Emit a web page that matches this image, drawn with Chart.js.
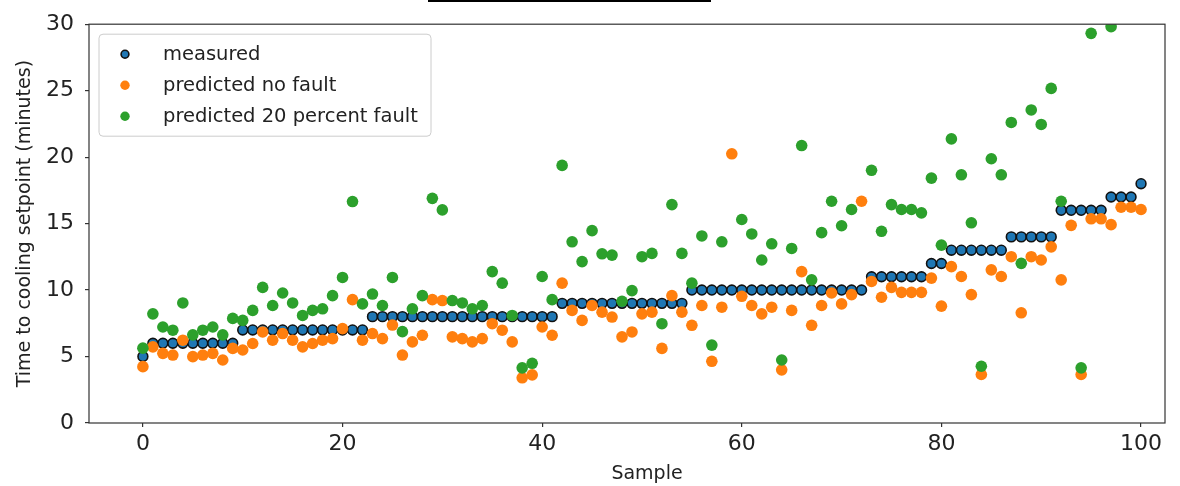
<!DOCTYPE html>
<html lang="en">
<head>
<meta charset="UTF-8">
<title>Time to cooling setpoint</title>
<script src="https://cdn.jsdelivr.net/npm/chart.js@4.4.0/dist/chart.umd.min.js"></script>
<style>
  body { margin: 0; background: #fff; }
  .wrap { position: relative; width: 1180px; height: 486px; }
  .title-rule { position: absolute; left: 428px; top: 0; width: 283px; height: 2px; background: #000; }
</style>
</head>
<body>
<div class="wrap">
  <div class="title-rule"></div>
  <canvas id="cooling" width="1180" height="486"></canvas>
</div>

<script>
    // minutes to reach the cooling setpoint, one value per sample (0..100)
    const measured = [
        5, 6, 6, 6, 6, 6, 6, 6, 6, 6,
        7, 7, 7, 7, 7, 7, 7, 7, 7, 7,
        7, 7, 7, 8, 8, 8, 8, 8, 8, 8,
        8, 8, 8, 8, 8, 8, 8, 8, 8, 8,
        8, 8, 9, 9, 9, 9, 9, 9, 9, 9,
        9, 9, 9, 9, 9, 10, 10, 10, 10, 10,
        10, 10, 10, 10, 10, 10, 10, 10, 10, 10,
        10, 10, 10, 11, 11, 11, 11, 11, 11, 12,
        12, 13, 13, 13, 13, 13, 13, 14, 14, 14,
        14, 14, 16, 16, 16, 16, 16, 17, 17, 17,
        18
    ];
    const predictedNoFault = [
        4.24, 5.73, 5.24, 5.11, 6.23, 4.99, 5.11, 5.24, 4.74, 5.61,
        5.49, 5.98, 6.85, 6.23, 6.73, 6.23, 5.73, 5.98, 6.23, 6.35,
        7.10, 9.28, 6.23, 6.73, 6.35, 7.37, 5.11, 6.10, 6.60, 9.28,
        9.21, 6.48, 6.35, 6.10, 6.35, 7.47, 6.98, 6.10, 3.40, 3.62,
        7.22, 6.60, 10.52, 8.47, 7.72, 8.84, 8.34, 7.97, 6.48, 6.85,
        8.21, 8.34, 5.61, 9.58, 8.34, 7.35, 8.84, 4.64, 8.71, 20.25,
        9.53, 8.84, 8.21, 8.71, 4.00, 8.47, 11.39, 7.35, 8.84, 9.78,
        8.96, 9.66, 16.68, 10.65, 9.46, 10.20, 9.83, 9.83, 9.83, 10.90,
        8.79, 11.76, 11.02, 9.66, 3.65, 11.52, 11.02, 12.51, 8.29, 12.51,
        12.26, 13.25, 10.77, 14.87, 3.65, 15.36, 15.36, 14.92, 16.23, 16.23,
        16.06
    ];
    // values above 30 fall outside the plotted range
    const predictedFault20 = [
        5.63, 8.21, 7.22, 6.98, 9.03, 6.63, 6.98, 7.22, 6.63, 7.87,
        7.72, 8.47, 10.20, 8.84, 9.78, 9.03, 8.09, 8.47, 8.59, 9.58,
        10.95, 16.66, 8.96, 9.70, 8.84, 10.95, 6.87, 8.59, 9.58, 16.90,
        16.03, 9.21, 9.03, 8.59, 8.84, 11.39, 10.52, 8.09, 4.15, 4.49,
        11.02, 9.28, 19.38, 13.63, 12.14, 14.47, 12.73, 12.63, 9.16, 9.96,
        12.51, 12.76, 7.47, 16.43, 12.76, 10.52, 14.07, 5.86, 13.63, 36.40,
        15.31, 14.22, 12.26, 13.48, 4.74, 13.13, 20.87, 10.77, 14.32, 16.68,
        14.84, 16.06, 30.80, 19.01, 14.42, 16.43, 16.06, 16.06, 15.81, 18.42,
        13.38, 21.37, 18.67, 15.06, 4.27, 19.88, 18.67, 22.61, 12.01, 23.55,
        22.46, 25.17, 16.68, 31.20, 4.15, 29.31, 31.00, 29.81, 33.00, 33.00,
        32.50
    ];
    const xTicks = [0, 20, 40, 60, 80, 100];
    const yTicks = [0, 5, 10, 15, 20, 25, 30];
    const xLabel = 'Sample';

    const FONT = "'DejaVu Sans', sans-serif";
    const toPoints = arr => arr.map((y, x) => ({x: x, y: y}));

    // box around the plotting area, like matplotlib spines
    const spines = {
        id: 'spines',
        afterDatasetsDraw(chart) {
            const {ctx, chartArea: a} = chart;
            ctx.save();
            ctx.strokeStyle = '#333';
            ctx.lineWidth = 1.2;
            ctx.strokeRect(a.left, a.top, a.right - a.left, a.bottom - a.top);
            ctx.restore();
        }
    };

    // x axis caption, sits a little right of the plot centre
    const xCaption = {
        id: 'xCaption',
        afterDraw(chart) {
            const {ctx, chartArea: a} = chart;
            ctx.save();
            ctx.font = '19px ' + FONT;
            ctx.fillStyle = '#222';
            ctx.textAlign = 'center';
            ctx.textBaseline = 'middle';
            ctx.fillText(xLabel, (a.left + a.right) / 2 + 20, chart.height - 12);
            ctx.restore();
        }
    };

    // legend box in the upper left corner of the plot
    const innerLegend = {
        id: 'innerLegend',
        afterDraw(chart) {
            const {ctx, chartArea: a} = chart;
            const x = a.left + 10, y = a.top + 10, w = 332, h = 102, r = 4;
            ctx.save();
            ctx.beginPath();
            ctx.roundRect(x, y, w, h, r);
            ctx.fillStyle = 'rgba(255,255,255,0.8)';
            ctx.fill();
            ctx.strokeStyle = '#cccccc';
            ctx.lineWidth = 1;
            ctx.stroke();
            ctx.font = '19.5px ' + FONT;
            ctx.textBaseline = 'middle';
            chart.data.datasets.forEach((ds, i) => {
                const cy = y + 20 + i * 31;
                ctx.beginPath();
                ctx.arc(x + 26, cy, ds.pointBorderWidth ? 3.9 : 4.7, 0, Math.PI * 2);
                ctx.fillStyle = ds.pointBackgroundColor;
                ctx.fill();
                if (ds.pointBorderWidth) {
                    ctx.lineWidth = ds.pointBorderWidth;
                    ctx.strokeStyle = ds.pointBorderColor;
                    ctx.stroke();
                }
                ctx.fillStyle = '#222';
                ctx.fillText(ds.label, x + 64, cy + 1);
            });
            ctx.restore();
        }
    };

    const tickGrid = {
        display: true, drawOnChartArea: false, drawTicks: true,
        tickLength: 4, color: '#333', lineWidth: 1.2
    };

    new Chart(document.getElementById('cooling'), {
        type: 'scatter',
        data: {
            datasets: [{
                label: 'measured',
                data: toPoints(measured),
                pointBackgroundColor: '#1f77b4',
                pointBorderColor: '#111',
                pointBorderWidth: 1.6,
                pointRadius: 4.9,
                order: 2,
                clip: 0
            }, {
                label: 'predicted no fault',
                data: toPoints(predictedNoFault),
                pointBackgroundColor: '#ff7f0e',
                pointBorderWidth: 0,
                pointRadius: 5.8,
                order: 1,
                clip: 0
            }, {
                label: 'predicted 20 percent fault',
                data: toPoints(predictedFault20),
                pointBackgroundColor: '#2ca02c',
                pointBorderWidth: 0,
                pointRadius: 5.8,
                order: 0,
                clip: 0
            }]
        },
        options: {
            responsive: false,
            devicePixelRatio: 1,
            animation: false,
            layout: { padding: { top: 19, right: 15, left: 0, bottom: 0 } },
            plugins: { legend: { display: false }, tooltip: { enabled: false } },
            scales: {
                x: {
                    type: 'linear', min: -5.4, max: 102.4,
                    afterBuildTicks: s => { s.ticks = xTicks.map(v => ({value: v})); },
                    afterFit: s => { s.height = 63; },
                    grid: tickGrid,
                    border: { display: false },
                    ticks: { font: { family: FONT, size: 22 }, color: '#222', padding: 4, maxRotation: 0, autoSkip: false },
                    title: { display: false }
                },
                y: {
                    min: 0, max: 30,
                    afterBuildTicks: s => { s.ticks = yTicks.map(v => ({value: v})); },
                    afterFit: s => { s.width = 89; },
                    grid: tickGrid,
                    border: { display: false },
                    ticks: { font: { family: FONT, size: 22 }, color: '#222', padding: 11 },
                    title: { display: true, text: 'Time to cooling setpoint (minutes)', font: { family: FONT, size: 19 }, color: '#222', padding: { top: 14, bottom: 0 } }
                }
            }
        },
        plugins: [spines, xCaption, innerLegend]
    });
</script>
</body>
</html>
